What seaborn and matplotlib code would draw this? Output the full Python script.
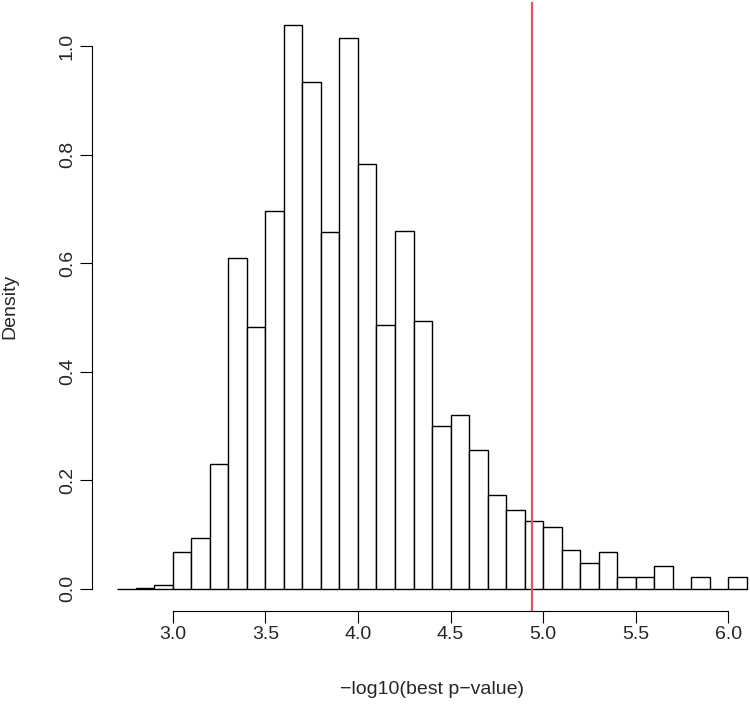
import numpy as np
import pandas as pd
import seaborn as sns
import matplotlib
matplotlib.use("Agg")
import matplotlib.pyplot as plt

# histogram: bins of width 0.1 from 2.7 to 6.1
bin_edges = [2.7, 2.8, 2.9, 3.0, 3.1, 3.2, 3.3, 3.4, 3.5, 3.6, 3.7, 3.8,
             3.9, 4.0, 4.1, 4.2, 4.3, 4.4, 4.5, 4.6, 4.7, 4.8, 4.9, 5.0,
             5.1, 5.2, 5.3, 5.4, 5.5, 5.6, 5.7, 5.8, 5.9, 6.0, 6.1]
density = [0.0, 0.002, 0.007, 0.068, 0.094, 0.230, 0.609, 0.483, 0.696,
           1.039, 0.933, 0.658, 1.015, 0.782, 0.485, 0.659, 0.493, 0.300,
           0.320, 0.256, 0.172, 0.145, 0.125, 0.114, 0.071, 0.047, 0.068,
           0.021, 0.022, 0.042, 0.0, 0.021, 0.0, 0.022]
observed = 4.94
x_ticks = [3.0, 3.5, 4.0, 4.5, 5.0, 5.5, 6.0]
y_ticks = [0.0, 0.2, 0.4, 0.6, 0.8, 1.0]

centers = [(a + b) / 2 for a, b in zip(bin_edges[:-1], bin_edges[1:])]
df = pd.DataFrame({"score": centers, "density": density})

sns.set_style("ticks")
plt.rcParams["font.family"] = ["Liberation Sans", "DejaVu Sans"]
plt.rcParams["font.size"] = 14

fig = plt.figure(figsize=(7.5, 7.08), dpi=100)
ax = fig.add_axes([0.1227, 0.1366, 0.9067, 0.861])

sns.histplot(data=df, x="score", weights="density", bins=bin_edges,
             stat="count", color="white", edgecolor="black", linewidth=1,
             alpha=1, ax=ax)
ax.axvline(observed, color="#DF536B", lw=1.6)

ax.set_xlim(2.564, 6.236)
ax.set_ylim(-0.0416, 1.0816)
ax.set_xticks(x_ticks)
ax.set_xticklabels([f"{t:.1f}" for t in x_ticks])
ax.set_yticks(y_ticks)
ax.set_yticklabels([f"{t:.1f}" for t in y_ticks], rotation=90, va="center")

for s in ["top", "right"]:
    ax.spines[s].set_visible(False)
ax.spines["bottom"].set_bounds(3.0, 6.0)
ax.spines["left"].set_bounds(0.0, 1.0)
for s in ["bottom", "left"]:
    ax.spines[s].set_linewidth(0.8)
    ax.spines[s].set_color("black")
ax.tick_params(axis="both", length=8.6, width=0.8, color="black",
               labelsize=14)
ax.tick_params(axis="x", pad=2)
ax.tick_params(axis="y", pad=3)

ax.set_xlabel("\u2212log10(best p\u2212value)", fontsize=14)
ax.set_ylabel("Density", fontsize=14)
ax.xaxis.set_label_coords(0.5, -0.129)
ax.xaxis.label.set_verticalalignment("center")
ax.yaxis.set_label_coords(-0.1206, 0.5)
ax.yaxis.label.set_verticalalignment("center")

fig.savefig("out.png", dpi=100)
